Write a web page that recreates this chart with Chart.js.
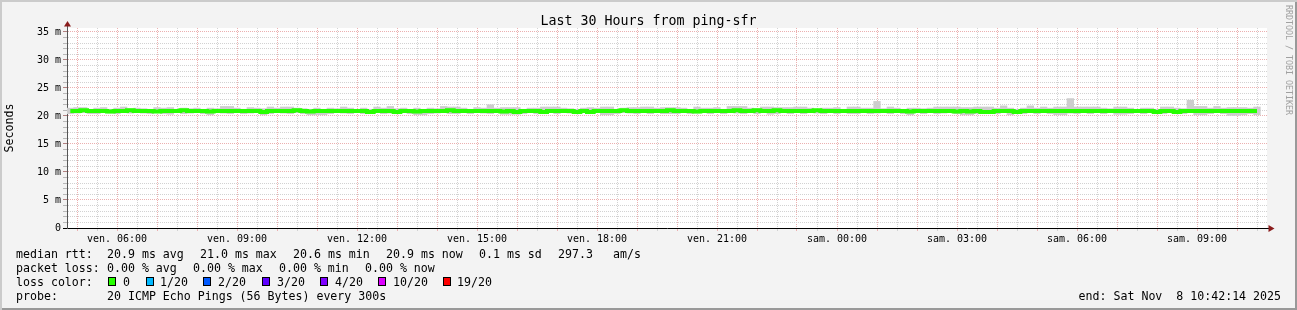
<!DOCTYPE html>
<html>
<head>
<meta charset="utf-8">
<script src="https://cdn.jsdelivr.net/npm/chart.js@4/dist/chart.umd.min.js"></script>
<style>
  html, body { margin: 0; padding: 0; background: #f3f3f3; }
  #wrap {
    position: relative; width: 1297px; height: 310px; background: #f3f3f3;
    box-shadow: inset 2px 2px 0 #cbcbcb, inset -2px -2px 0 #999999;
    font-family: 'DejaVu Sans Mono', monospace; color: #000;
  }
  #c { position: absolute; left: 0; top: 0; }
  .t { position: absolute; white-space: pre; font-size: 11.6px; line-height: 14px; }
  #title { position: absolute; left: 0; top: 14px; width: 1297px; text-align: center; font-size: 13.3px; line-height: 14px; white-space: pre; }
  #credit { position: absolute; left: 1284px; top: 5px; font-size: 8.3px; line-height: 9px; color: #a0a0a0; writing-mode: vertical-rl; white-space: pre; }
  .sq { position: absolute; top: 277px; width: 8px; height: 9px; border: 1px solid #000; box-sizing: border-box; }
</style>
</head>
<body>
<div id="wrap">
  <canvas id="c" width="1297" height="310"></canvas>
  <div id="title">Last 30 Hours from ping-sfr</div>
  <div id="credit">RRDTOOL / TOBI OETIKER</div>
  <div id="legend"></div>
</div>
<script>
// 10 minute slots, from ven. 04:45 onwards (hours since ven. 00:00)
const slotStart = 4.75;
const slotHours = 1 / 6;

// median rtt (ms)
const median = [
  20.9,20.9,21.0,20.9,20.9,20.9,20.8,20.9,20.9,21.0,
  20.9,20.9,20.9,20.8,20.9,20.9,20.9,21.0,20.9,20.9,
  20.9,20.8,20.9,20.9,20.9,20.9,20.9,20.9,20.9,20.7,
  20.9,20.9,20.9,20.9,21.0,20.9,20.8,20.9,20.9,20.9,
  20.9,20.9,20.9,20.9,20.9,20.7,20.9,20.9,20.9,20.7,
  20.9,20.9,20.8,20.9,20.9,20.9,20.9,21.0,20.9,20.9,
  20.9,20.9,20.9,20.9,20.9,20.8,20.9,20.7,20.9,20.9,
  20.9,20.7,20.9,20.9,20.9,20.9,20.7,20.9,20.7,20.9,
  20.9,20.9,20.9,21.0,20.9,20.9,20.9,20.9,20.9,20.9,
  21.0,20.9,20.9,20.9,20.8,20.9,20.9,20.9,20.9,20.9,
  21.0,20.9,20.9,21.0,20.9,20.9,21.0,20.9,20.9,20.9,
  20.9,20.9,21.0,20.9,20.9,20.9,20.9,20.9,20.9,20.9,
  20.9,20.9,20.9,20.9,20.9,20.9,20.8,20.9,20.9,20.9,
  20.9,20.9,20.9,20.8,20.9,20.8,20.9,20.7,20.7,20.9,
  20.9,20.9,20.7,20.9,20.9,20.9,20.9,20.9,20.9,20.9,
  20.9,20.9,20.9,20.9,20.9,20.9,20.9,20.9,20.9,20.9,
  20.9,20.9,20.9,20.7,20.9,20.9,20.7,20.9,20.9,20.9,
  20.9,20.9,20.9,20.9,20.9,20.9,20.9,20.9,20.9
];

// smoke: highest and lowest ping of each slot (ms)
const smokeHigh = [
  21.4,21.5,21.5,21.2,21.4,21.5,21.2,21.4,21.6,21.3,
  21.4,21.3,21.2,21.5,21.4,21.5,21.2,21.4,21.3,21.4,
  21.2,21.4,21.3,21.7,21.7,21.4,21.2,21.5,21.4,21.3,
  21.6,21.4,21.6,21.6,21.4,21.3,21.2,21.4,21.2,21.4,
  21.3,21.6,21.4,21.2,21.4,21.2,21.6,21.4,21.7,21.3,
  21.4,21.2,21.4,21.2,21.4,21.3,21.7,21.6,21.6,21.4,
  21.2,21.5,21.4,22.0,21.4,21.5,21.5,21.5,21.2,21.4,
  21.4,21.6,21.6,21.6,21.4,21.3,21.2,21.4,21.5,21.4,
  21.6,21.6,21.2,21.4,21.5,21.5,21.6,21.6,21.4,21.5,
  21.5,21.5,21.4,21.2,21.6,21.4,21.4,21.5,21.2,21.7,
  21.7,21.7,21.4,21.3,21.6,21.6,21.5,21.5,21.5,21.6,
  21.6,21.4,21.2,21.4,21.4,21.5,21.2,21.6,21.6,21.4,
  21.4,22.6,21.3,21.6,21.4,21.2,21.4,21.4,21.3,21.4,
  21.6,21.6,21.6,21.6,21.5,21.5,21.6,21.6,21.6,21.4,
  21.8,21.4,21.2,21.4,21.8,21.4,21.6,21.4,21.6,21.6,
  23.1,21.6,21.6,21.6,21.6,21.4,21.3,21.6,21.6,21.4,
  21.2,21.4,21.4,21.2,21.6,21.6,21.4,21.3,22.8,21.7,
  21.7,21.4,21.7,21.4,21.5,21.5,21.5,21.4,21.6
];
const smokeLow = [
  20.4,20.5,20.6,20.4,20.4,20.6,20.5,20.4,20.6,20.5,
  20.6,20.5,20.4,20.6,20.4,20.3,20.6,20.4,20.5,20.6,
  20.4,20.2,20.6,20.5,20.4,20.6,20.4,20.5,20.6,20.2,
  20.4,20.6,20.5,20.4,20.6,20.4,20.2,20.2,20.2,20.4,
  20.6,20.5,20.4,20.6,20.4,20.4,20.6,20.4,20.5,20.4,
  20.6,20.4,20.2,20.2,20.4,20.5,20.6,20.4,20.4,20.6,
  20.4,20.6,20.5,20.4,20.6,20.3,20.3,20.3,20.4,20.6,
  20.4,20.4,20.6,20.4,20.6,20.5,20.4,20.6,20.4,20.6,
  20.2,20.2,20.4,20.6,20.5,20.4,20.6,20.4,20.6,20.4,
  20.4,20.4,20.6,20.4,20.5,20.6,20.4,20.6,20.4,20.6,
  20.5,20.4,20.6,20.4,20.6,20.3,20.4,20.6,20.4,20.6,
  20.4,20.6,20.5,20.4,20.6,20.4,20.6,20.4,20.4,20.6,
  20.4,20.5,20.6,20.4,20.6,20.4,20.2,20.6,20.4,20.6,
  20.4,20.5,20.6,20.4,20.2,20.2,20.4,20.5,20.5,20.4,
  20.6,20.2,20.5,20.4,20.6,20.4,20.6,20.4,20.2,20.2,
  20.5,20.4,20.6,20.4,20.6,20.4,20.6,20.3,20.3,20.4,
  20.6,20.4,20.6,20.5,20.4,20.6,20.5,20.4,20.6,20.2,
  20.2,20.4,20.6,20.4,20.1,20.1,20.2,20.4,20.2
];

// x axis labels (hours since ven. 00:00)
const xTickHours = [6, 9, 12, 15, 18, 21, 24, 27, 30, 33];
const xTickLabels = ['ven. 06:00', 'ven. 09:00', 'ven. 12:00', 'ven. 15:00', 'ven. 18:00',
  'ven. 21:00', 'sam. 00:00', 'sam. 03:00', 'sam. 06:00', 'sam. 09:00'];

// legend
const lossLabels = ['0', '1/20', '2/20', '3/20', '4/20', '10/20', '19/20'];
const lossColors = ['#26ff00', '#00b8ff', '#0059ff', '#5e00ff', '#7e00ff', '#dd00ff', '#ff0000'];
const lossSquareX = [108, 146, 203, 262, 320, 378, 443];
const lossLabelX = [123, 160, 218, 277, 335, 393, 457];

const legendRows = [
  [[16, 'median rtt:'], [107, '20.9 ms avg'], [200, '21.0 ms max'], [293, '20.6 ms min'],
   [386, '20.9 ms now'], [479, '0.1 ms sd'], [558, '297.3'], [613, 'am/s']],
  [[16, 'packet loss:'], [107, '0.00 % avg'], [193, '0.00 % max'], [279, '0.00 % min'], [365, '0.00 % now']],
  [[16, 'loss color:']],
  [[16, 'probe:'], [107, '20 ICMP Echo Pings (56 Bytes) every 300s']]
];
const endText = 'end: Sat Nov  8 10:42:14 2025';

const MAJOR = '#ebb0b0';
const MINOR = '#d2d2d2';
const FONT = "'DejaVu Sans Mono', monospace";

// legend text
const legend = document.getElementById('legend');
legendRows.forEach((row, r) => {
  row.forEach(([x, txt]) => {
    const d = document.createElement('div');
    d.className = 't';
    d.style.left = x + 'px';
    d.style.top = (247 + r * 14) + 'px';
    d.textContent = txt;
    legend.appendChild(d);
  });
});
lossLabels.forEach((lab, i) => {
  const sq = document.createElement('div');
  sq.className = 'sq';
  sq.style.left = lossSquareX[i] + 'px';
  sq.style.background = lossColors[i];
  legend.appendChild(sq);
  const d = document.createElement('div');
  d.className = 't';
  d.style.left = lossLabelX[i] + 'px';
  d.style.top = '275px';
  d.textContent = lab;
  legend.appendChild(d);
});
const endDiv = document.createElement('div');
endDiv.className = 't';
endDiv.style.right = (1297 - 1281) + 'px';
endDiv.style.top = '289px';
endDiv.textContent = endText;
legend.appendChild(endDiv);

const slotX = i => slotStart + (i + 0.5) * slotHours;

// white canvas + axis arrows like rrdtool
const rrdFrame = {
  id: 'rrdFrame',
  beforeDraw(chart) {
    const a = chart.chartArea, ctx = chart.ctx;
    ctx.save();
    ctx.fillStyle = '#ffffff';
    ctx.fillRect(a.left, a.top, a.right - a.left, a.bottom - a.top);
    ctx.restore();
  },
  afterDraw(chart) {
    const a = chart.chartArea, ctx = chart.ctx;
    ctx.save();
    ctx.strokeStyle = '#555';
    ctx.lineWidth = 1;
    ctx.beginPath();
    ctx.moveTo(a.left + 0.5, a.top - 5);
    ctx.lineTo(a.left + 0.5, a.top);
    ctx.stroke();
    ctx.strokeStyle = '#000';
    ctx.beginPath();
    ctx.moveTo(a.right, a.bottom + 0.5);
    ctx.lineTo(a.right + 2, a.bottom + 0.5);
    ctx.stroke();
    ctx.fillStyle = '#8a1c1c';
    ctx.beginPath();
    ctx.moveTo(a.left + 0.5, a.top - 7);
    ctx.lineTo(a.left - 3, a.top - 1.5);
    ctx.lineTo(a.left + 4, a.top - 1.5);
    ctx.closePath();
    ctx.fill();
    ctx.beginPath();
    ctx.moveTo(a.right + 7.5, a.bottom + 0.5);
    ctx.lineTo(a.right + 1.5, a.bottom - 3);
    ctx.lineTo(a.right + 1.5, a.bottom + 4);
    ctx.closePath();
    ctx.fill();
    ctx.restore();
  }
};

new Chart(document.getElementById('c'), {
  type: 'line',
  data: {
    datasets: [
      {
        type: 'line',
        label: 'median rtt',
        data: median.map((v, i) => ({ x: slotX(i), y: v })),
        borderColor: '#26ff00',
        borderWidth: 4,
        borderCapStyle: 'butt',
        pointRadius: 0,
        stepped: 'middle',
        order: 0
      },
      {
        type: 'bar',
        label: 'smoke',
        data: smokeLow.map((v, i) => ({ x: slotX(i), y: [v, smokeHigh[i]] })),
        backgroundColor: '#cdcdcd',
        borderWidth: 0,
        barPercentage: 1,
        categoryPercentage: 1,
        grouped: false,
        order: 1
      }
    ]
  },
  options: {
    responsive: false,
    animation: false,
    devicePixelRatio: 1,
    layout: { padding: { left: 0, top: 28, right: 30, bottom: 0 } },
    plugins: { legend: { display: false }, tooltip: { enabled: false }, title: { display: false } },
    scales: {
      x: {
        type: 'linear',
        min: 4.75,
        max: 34.75,
        offset: false,
        afterFit: s => { s.height = 82; },
        afterBuildTicks: s => {
          s.ticks = [];
          for (let h = 5; h <= 34.5; h += 0.5) s.ticks.push({ value: h });
        },
        grid: {
          offset: false,
          color: c => (c.tick && Number.isInteger(c.tick.value)) ? MAJOR : MINOR,
          lineWidth: 1,
          tickLength: 3
        },
        border: { display: true, color: '#000', width: 1, dash: [1, 1] },
        ticks: {
          autoSkip: false,
          maxRotation: 0,
          minRotation: 0,
          padding: 2,
          color: '#000',
          font: { family: FONT, size: 10 },
          callback: v => {
            const k = xTickHours.indexOf(v);
            return k >= 0 ? xTickLabels[k] : '';
          }
        }
      },
      y: {
        type: 'linear',
        min: 0,
        max: 35.7,
        afterFit: s => { s.width = 67; },
        afterBuildTicks: s => {
          s.ticks = [];
          for (let v = 0; v <= 35; v++) s.ticks.push({ value: v });
        },
        grid: {
          color: c => {
            if (!c.tick) return MINOR;
            if (c.tick.value === 0) return 'rgba(0,0,0,0)';
            return c.tick.value % 5 === 0 ? MAJOR : MINOR;
          },
          tickColor: c => (c.tick && c.tick.value === 0) ? '#000' : (c.tick && c.tick.value % 5 === 0 ? '#b08080' : '#b8b8b8'),
          lineWidth: 1,
          tickLength: 4
        },
        border: { display: true, color: '#555', width: 1, dash: [1, 1] },
        title: {
          display: true,
          text: 'Seconds',
          color: '#000',
          font: { family: FONT, size: 11.6 },
          padding: { top: 3, bottom: 0 }
        },
        ticks: {
          autoSkip: false,
          padding: 2,
          color: '#000',
          font: { family: FONT, size: 10 },
          callback: v => v % 5 === 0 ? (v === 0 ? '0' : v + ' m') : ''
        }
      }
    }
  },
  plugins: [rrdFrame]
});
</script>
</body>
</html>
